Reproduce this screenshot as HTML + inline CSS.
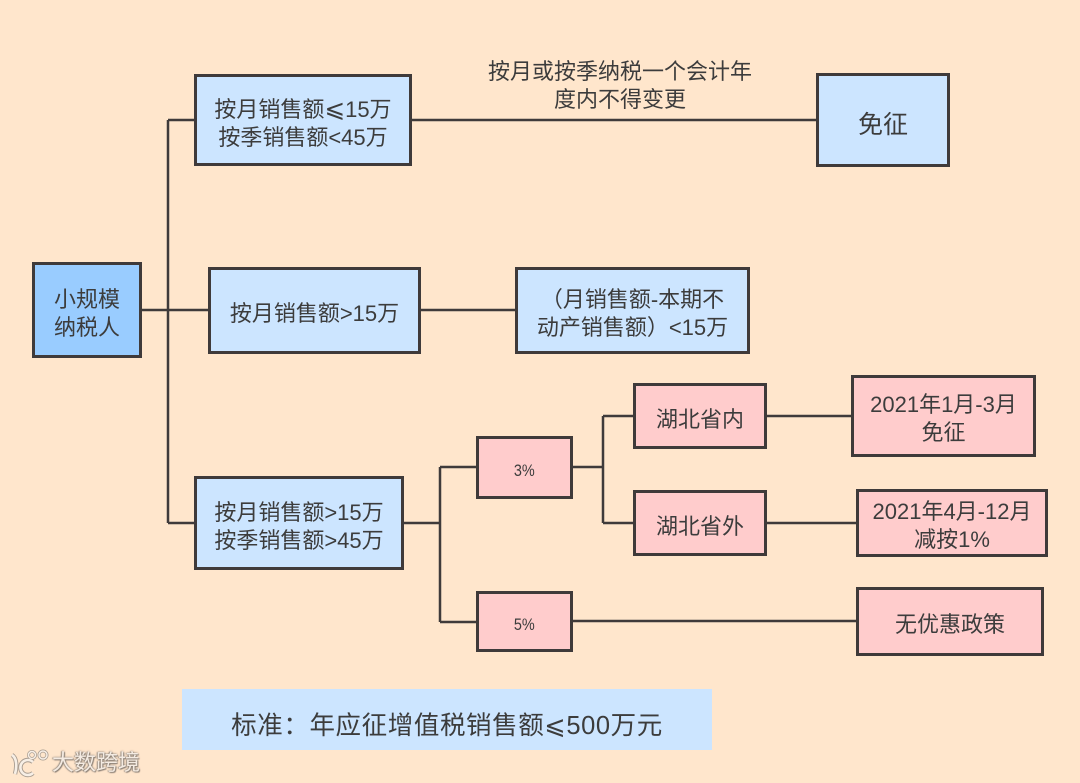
<!DOCTYPE html>
<html lang="zh"><head><meta charset="utf-8"><style>
html,body{margin:0;padding:0}
body{width:1080px;height:783px;position:relative;overflow:hidden;background:#ffe6cc;font-family:"Liberation Sans","Noto Sans CJK SC",sans-serif;color:#3c3c3c}
svg{position:absolute;left:0;top:0}
.b{position:absolute;box-sizing:border-box;border:3px solid #3f3a3a;display:flex;align-items:center;justify-content:center;text-align:center;font-size:22px;line-height:28px;white-space:nowrap;padding-top:7px}
.c{background:#cce5ff}.p{background:#ffcccc}.d{background:#99ccff}
.t{position:absolute;text-align:center;white-space:nowrap}
.le{font-family:"DejaVu Sans",sans-serif;font-weight:normal;font-size:1.12em;line-height:1px}
.cc{font-family:"Noto Sans CJK TC",sans-serif}
.n{display:inline-block;transform:scaleX(.85)}
</style></head><body>
<svg width="1080" height="783" fill="none" stroke="#3f3a3a" stroke-width="2.5">
<path d="M141 310H208M168 120V523M168 120H196M168 523H196M420 310H516M411 120H818"/>
<path d="M403 523H440M440 467V622M440 467H476M440 622H476M572 467H603M603 416V523M603 416H634M603 523H634M766 416H852M766 523H857M572 621H857"/>
</svg>
<div class="b d" style="left:32px;top:262px;width:110px;height:96px">小规模<br>纳税人</div>
<div class="b c" style="left:194px;top:74px;width:218px;height:92px;padding-top:8px"><span>按月销售额<span class="le">⩽</span>15万<br>按季销售额&lt;45万</span></div>
<div class="b c" style="left:208px;top:267px;width:213px;height:87px">按月销售额&gt;15万</div>
<div class="b c" style="left:515px;top:267px;width:235px;height:87px">（月销售额-本期不<br>动产销售额）&lt;15万</div>
<div class="b c" style="left:194px;top:476px;width:210px;height:94px">按月销售额&gt;15万<br>按季销售额&gt;45万</div>
<div class="b c" style="left:816px;top:73px;width:134px;height:94px;font-size:25px;padding-top:9px">免征</div>
<div class="b p" style="left:476px;top:436px;width:97px;height:63px;font-size:17px;padding-top:6px"><span class="n">3%</span></div>
<div class="b p" style="left:476px;top:591px;width:97px;height:61px;font-size:17px;padding-top:6px"><span class="n">5%</span></div>
<div class="b p" style="left:633px;top:383px;width:134px;height:66px">湖北省内</div>
<div class="b p" style="left:633px;top:490px;width:134px;height:66px">湖北省外</div>
<div class="b p" style="left:851px;top:375px;width:185px;height:82px;padding-top:6px">2021年1月-3月<br>免征</div>
<div class="b p" style="left:856px;top:489px;width:192px;height:68px;padding-top:5px">2021年4月-12月<br>减按1%</div>
<div class="b p" style="left:856px;top:587px;width:188px;height:69px">无优惠政策</div>
<div class="t" style="left:470px;top:58px;width:300px;font-size:22px;line-height:28px">按月或按季纳税一个会计年<br>度内不得变更</div>
<div class="t c" style="left:182px;top:689px;width:530px;height:61px;line-height:70px;font-size:25.5px;letter-spacing:.6px">标准<span class="cc">：</span>年应征增值税销售额<span class="le" style="font-size:1em">⩽</span>500万元</div>
<svg width="60" height="40" style="left:0;top:743px" fill="none">
<g stroke="#a89c90" stroke-width="4.4">
<path d="M12 12 C17 15 17 24 15 31"/>
<path d="M33 19 A7.5 7.5 0 1 0 33 30"/>
<circle cx="32" cy="12" r="3.5" stroke-width="3"/>
<circle cx="43" cy="12" r="4" stroke-width="3"/>
</g>
<g stroke="#f7efe6" stroke-width="2.6">
<path d="M12 12 C17 15 17 24 15 31"/>
<path d="M33 19 A7.5 7.5 0 1 0 33 30"/>
<circle cx="32" cy="12" r="3.5" stroke-width="1.5"/>
<circle cx="43" cy="12" r="4" stroke-width="1.5"/>
</g>
</svg>
<div class="t" style="left:52px;top:747px;font-size:22px;line-height:32px;color:#f4ebe2;text-shadow:0 0 2px #8a7f75,1px 1px 1px #8a7f75,-1px 0 1px #a89c90">大数跨境</div>
</body></html>
